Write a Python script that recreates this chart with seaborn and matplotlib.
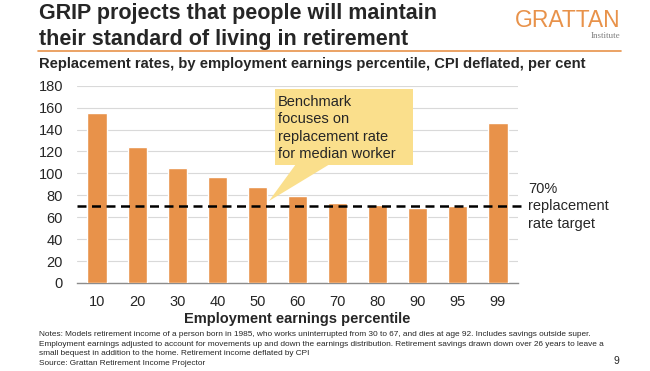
import pandas as pd
import matplotlib.pyplot as plt
import seaborn as sns
from matplotlib.patches import Polygon, Rectangle
from matplotlib.lines import Line2D

# Replacement rates by employment earnings percentile
percentiles = ['10', '20', '30', '40', '50', '60', '70', '80', '90', '95', '99']
replacement_rates = [155, 124, 105, 97, 88, 79, 73, 71, 68, 70, 146]
target_rate = 70

orange = '#E8924A'
box_col = '#FADF8C'
W, H = 650, 371
df = pd.DataFrame({'Percentile': percentiles, 'Rate': replacement_rates})

sns.set_style('white')
plt.rcParams['font.family'] = ['Liberation Sans', 'DejaVu Sans']

fig = plt.figure(figsize=(6.5, 3.71), dpi=100)
ax = fig.add_axes([77 / W, 1 - 283 / H, 441 / W, 197.3 / H])


def px(x, y):
    # pixel position (from top-left) -> figure fraction
    return x / W, 1 - y / H


sns.barplot(data=df, x='Percentile', y='Rate', order=percentiles, color=orange,
            saturation=1, width=0.48, ax=ax, zorder=3)
ax.set_ylim(0, 180)
ax.set_xlim(-0.5, 10.5)
ax.set_yticks(range(0, 181, 20))
ax.grid(axis='y', color='#D9D9D9', linewidth=0.8, zorder=0)
ax.set_axisbelow(True)
for s in ['top', 'right', 'left']:
    ax.spines[s].set_visible(False)
ax.spines['bottom'].set_color('#8C8C8C')
ax.spines['bottom'].set_linewidth(1)
ax.tick_params(axis='y', length=0, labelsize=10.5, pad=10)
ax.tick_params(axis='x', length=0, labelsize=10.5, pad=9)
ax.set_ylabel('')
ax.set_xlabel('Employment earnings percentile', fontsize=10.5, fontweight='bold', labelpad=2)

# 70% target line
ax.axhline(target_rate, color='black', linestyle=(0, (3.6, 2.2)), linewidth=1.8,
           xmax=1.012, clip_on=False, zorder=4)
ax.text(1.023, target_rate, '70%\nreplacement\nrate target', transform=ax.get_yaxis_transform(),
        fontsize=10.5, va='center', ha='left', linespacing=1.3)

# Callout box with pointer
fig.patches.append(Rectangle(px(275, 165), 138 / W, 76 / H, transform=fig.transFigure,
                             facecolor=box_col, edgecolor='none', zorder=5))
fig.patches.append(Polygon([px(296, 164), px(330, 164), px(269, 201)], closed=True,
                           transform=fig.transFigure, facecolor=box_col, edgecolor='none', zorder=5))
callout = ['Benchmark', 'focuses on', 'replacement rate', 'for median worker']
for i, line in enumerate(callout):
    fig.text(*px(278, 106 + i * 17.4), line, fontsize=10.5, va='baseline', ha='left', zorder=6)

# Title, rule, subtitle
fig.text(*px(39, 19), 'GRIP projects that people will maintain', fontsize=15.5, fontweight='bold', va='baseline')
fig.text(*px(39, 45), 'their standard of living in retirement', fontsize=15.5, fontweight='bold', va='baseline')
fig.lines.append(Line2D([38 / W, 621 / W], [1 - 51 / H, 1 - 51 / H],
                        transform=fig.transFigure, color=orange, linewidth=1.2))
fig.text(*px(39, 68), 'Replacement rates, by employment earnings percentile, CPI deflated, per cent',
         fontsize=10.6, fontweight='bold', va='baseline')

# Logo
fig.text(*px(620, 27), 'GRATTAN', color=orange, fontsize=16.5, va='baseline', ha='right')
fig.text(*px(620, 38), 'Institute', color='#7F7F7F', fontsize=6.5, va='baseline', ha='right',
         family='Liberation Serif')

# Notes
notes = [
    'Notes: Models retirement income of a person born in 1985, who works uninterrupted from 30 to 67, '
    'and dies at age 92. Includes savings outside super.',
    'Employment earnings adjusted to account for movements up and down the earnings distribution. '
    'Retirement savings drawn down over 26 years to leave a',
    'small bequest in addition to the home. Retirement income deflated by CPI',
    'Source: Grattan Retirement Income Projector',
]
for i, line in enumerate(notes):
    fig.text(*px(39, 336 + i * 9.7), line, fontsize=5.95, va='baseline', ha='left')
fig.text(*px(614, 364), '9', fontsize=7.5, va='baseline', ha='left')

fig.savefig('out.png', dpi=100)
